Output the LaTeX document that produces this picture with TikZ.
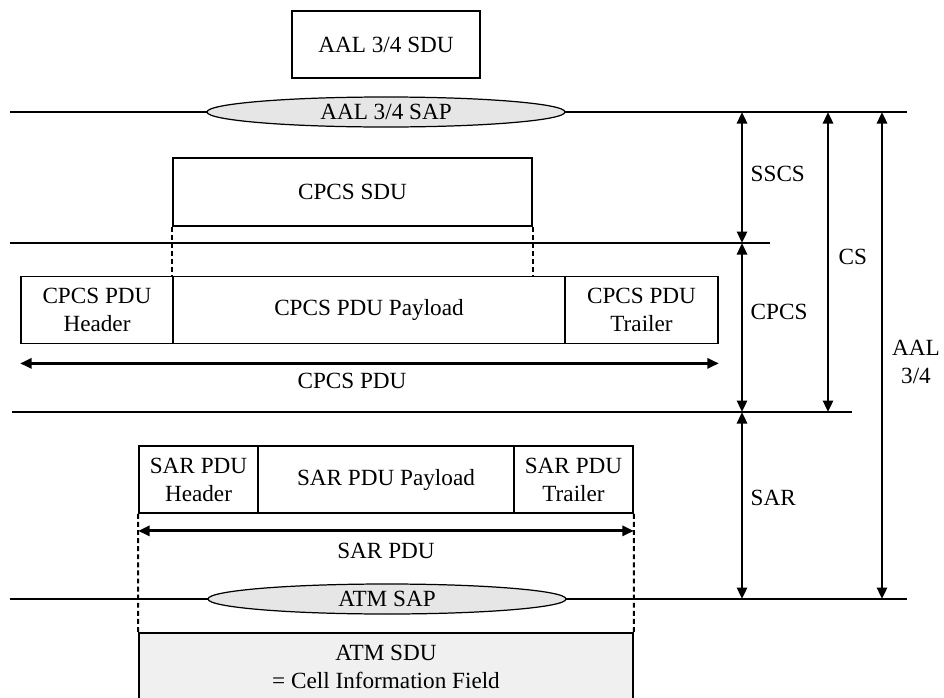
\documentclass[tikz,border=0pt]{standalone}
\usepackage{fontspec}
\setmainfont{Liberation Serif}
\usetikzlibrary{arrows.meta, positioning, shapes.geometric}
\definecolor{sapGray}{HTML}{E6E6E6}
\definecolor{sduGray}{HTML}{F0F0F0}

\begin{document}
\begin{tikzpicture}[every node/.style={font=\fontsize{13.2}{16}\selectfont},
      blk/.style={draw, line width=1pt, minimum height=1.34cm, inner sep=0pt, align=center},
      sap/.style={draw, ellipse, fill=sapGray, line width=0.7pt, minimum width=7.16cm,
                  minimum height=0.6cm, inner sep=0pt},
      layer/.style={line width=0.7pt},
      span/.style={line width=1.6pt, {Triangle[length=2.3mm,width=2mm]}-{Triangle[length=2.3mm,width=2mm]}},
      guide/.style={line width=1.2pt, dash pattern=on 2.8pt off 1.8pt}]
    \useasboundingbox (0,0) rectangle (18.88,-13.94);
    % layer boundaries
    \coordinate (w1) at (0.2,-2.24);  \coordinate (e1) at (18.14,-2.24);
    \coordinate (w2) at (0.2,-4.86);  \coordinate (e2) at (15.4,-4.86);
    \coordinate (w3) at (0.24,-8.24); \coordinate (e3) at (17.04,-8.24);
    \coordinate (w4) at (0.2,-11.98); \coordinate (e4) at (18.14,-11.98);
    \foreach \i in {1,...,4} \draw[layer] (w\i) -- (e\i);

    \node[blk, minimum width=3.76cm] (aalsdu) at (7.72,-0.89) {AAL 3/4 SDU};
    \node[sap] (aalsap) at (7.72,-2.24) {AAL 3/4 SAP};
    \node[blk, minimum width=7.18cm, minimum height=1.36cm] (cpcssdu) at (7.05,-3.84) {CPCS SDU};

    \node[blk, minimum width=3.04cm] (cpcshdr) at (1.94,-6.2)  {CPCS PDU\\Header};
    \node[blk, minimum width=7.84cm] (cpcspay) at (7.38,-6.2)  {CPCS PDU Payload};
    \node[blk, minimum width=3.06cm] (cpcstrl) at (12.83,-6.2) {CPCS PDU\\Trailer};
    \draw[guide] (cpcssdu.south west) -- (cpcssdu.south west |- cpcspay.north);
    \draw[guide] (cpcssdu.south east) -- (cpcssdu.south east |- cpcspay.north);
    \draw[span] ([yshift=-0.38cm]cpcshdr.south west) -- ([yshift=-0.38cm]cpcstrl.south east);
    \node (cpcspdu) at (7.04,-7.62) {CPCS PDU};

    \node[blk, minimum width=2.38cm] (sarhdr) at (3.97,-9.59)  {SAR PDU\\Header};
    \node[blk, minimum width=5.12cm] (sarpay) at (7.72,-9.59)  {SAR PDU Payload};
    \node[blk, minimum width=2.38cm] (sartrl) at (11.47,-9.59) {SAR PDU\\Trailer};
    \draw[span] ([yshift=-0.34cm]sarhdr.south west) -- ([yshift=-0.34cm]sartrl.south east);
    \node (sarpdu) at (7.72,-11.02) {SAR PDU};

    \node[sap] (atmsap) at (7.74,-11.98) {ATM SAP};
    \node[blk, fill=sduGray, minimum width=9.88cm] (atmsdu) at (7.72,-13.33) {ATM SDU\\= Cell Information Field};
    \draw[guide] (sarhdr.south west) -- (atmsdu.north west);
    \draw[guide] (sartrl.south east) -- (atmsdu.north east);

    % sublayer extents
    \coordinate (s1) at (14.84,-2.24); \coordinate (s2) at (14.84,-4.86);
    \coordinate (s3) at (14.84,-8.24); \coordinate (s4) at (14.84,-11.98);
    \coordinate (c1) at (16.56,-2.24); \coordinate (c3) at (16.56,-8.24);
    \coordinate (a1) at (17.64,-2.24); \coordinate (a4) at (17.64,-11.98);
    \draw[span] (s1) -- (s2);
    \draw[span] (s2) -- (s3);
    \draw[span] (s3) -- (s4);
    \draw[span] (c1) -- (c3);
    \draw[span] (a1) -- (a4);
    \node[anchor=west] (sscs) at (14.89,-3.48) {SSCS};
    \node[anchor=west] (cpcs) at (14.89,-6.24) {CPCS};
    \node[anchor=west] (sar)  at (14.89,-9.96) {SAR};
    \node[anchor=west] (cs)   at (16.65,-5.14) {CS};
    \node[align=center] (aal) at (18.32,-7.24) {AAL\\3/4};
  \end{tikzpicture}
\end{document}
